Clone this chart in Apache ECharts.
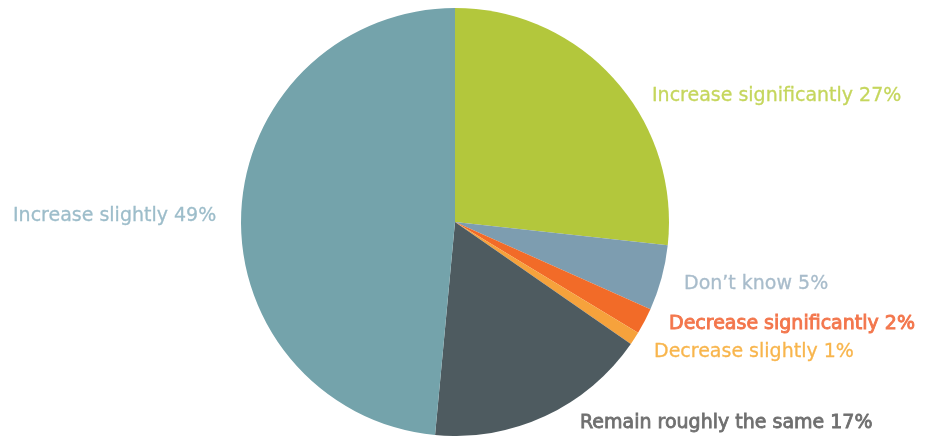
<!DOCTYPE html>
<html>
<head>
<meta charset="utf-8">
<script src="https://cdn.jsdelivr.net/npm/echarts@6/dist/echarts.min.js"></script>
<style>
  html, body { margin: 0; padding: 0; background: #fff; }
  #chart { width: 925px; height: 436px; }
</style>
</head>
<body>
<div id="chart"></div>
<script>
// data
var categories = ['Increase significantly', "Don\u2019t know", 'Decrease significantly', 'Decrease slightly', 'Remain roughly the same', 'Increase slightly'];
var values = [27, 5, 2, 1, 17, 49];

// look
var sliceColors = ['#b3c73c', '#7d9db0', '#f26b28', '#f6a23c', '#4e5b60', '#74a3ab'];
var labelColors = ['#c5d65c', '#a8bccb', '#f3764c', '#f8b54c', '#6f6f6f', '#9dbdca'];
var labelStroke = [0.3, 0.3, 0.9, 0.3, 0.8, 0.3];
// label anchor (left, middle) in px
var labelXY = [[652, 96], [684, 284], [669, 324], [654, 352], [580, 423], [13, 216]];

var chart = echarts.init(document.getElementById('chart'));

var data = categories.map(function (name, i) {
    return {
        name: name,
        value: values[i],
        itemStyle: { color: sliceColors[i] },
        label: {
            color: labelColors[i],
            textBorderColor: labelColors[i],
            textBorderWidth: labelStroke[i]
        }
    };
});

chart.setOption({
    animation: false,
    series: [{
        type: 'pie',
        center: [455, 222],
        radius: 214,
        startAngle: 90,
        clockwise: true,
        data: data,
        label: {
            show: true,
            position: 'outside',
            fontSize: 19,
            fontFamily: 'DejaVu Sans',
            overflow: 'none',
            formatter: function (p) { return p.name + ' ' + p.value + '%'; }
        },
        labelLine: { show: false },
        labelLayout: function (p) {
            var xy = labelXY[p.dataIndex];
            return { x: xy[0], y: xy[1], align: 'left', verticalAlign: 'middle' };
        },
        emphasis: { disabled: true }
    }]
});
</script>
</body>
</html>
